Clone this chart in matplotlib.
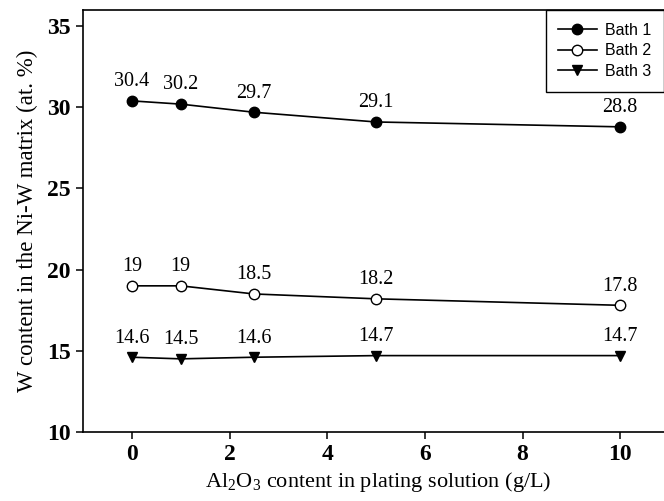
import matplotlib
matplotlib.use("Agg")
import matplotlib.pyplot as plt

# Al2O3 content (g/L)
al2o3 = [0, 1, 2.5, 5, 10]

# W content (at. %) for each bath
bath1 = [30.4, 30.2, 29.7, 29.1, 28.8]
bath2 = [19, 19, 18.5, 18.2, 17.8]
bath3 = [14.6, 14.5, 14.6, 14.7, 14.7]

labels1 = ["30.4", "30.2", "29.7", "29.1", "28.8"]
labels2 = ["19", "19", "18.5", "18.2", "17.8"]
labels3 = ["14.6", "14.5", "14.6", "14.7", "14.7"]

serif = "Liberation Serif"
sans = "Liberation Sans"

plt.rcParams["mathtext.fontset"] = "custom"
plt.rcParams["mathtext.rm"] = serif

fig = plt.figure(figsize=(6.64, 5.01), dpi=100)
# axes runs a bit past the right edge of the picture, like the cropped original
ax = fig.add_axes([0.125, 0.138, 0.89, 0.842])

line_kw = dict(color="black", linewidth=1.2, markersize=7.5, markeredgewidth=1.0)
ax.plot(al2o3, bath1, marker="o", markerfacecolor="black", label="Bath 1", **line_kw)
ax.plot(al2o3, bath2, marker="o", markerfacecolor="white", label="Bath 2", **line_kw)
ax.plot(al2o3, bath3, marker="v", markerfacecolor="black", label="Bath 3", **line_kw)

# value labels above each point
for ys, labs in [(bath1, labels1), (bath2, labels2), (bath3, labels3)]:
    for x, y, t in zip(al2o3, ys, labs):
        ax.annotate(t, (x, y), xytext=(0, 7), textcoords="offset points",
                    ha="center", va="bottom", fontsize=14.5, family=serif)

ax.set_xlim(-1, 11.1)
ax.set_ylim(10, 36)
ax.set_xticks([0, 2, 4, 6, 8, 10])
ax.set_yticks([10, 15, 20, 25, 30, 35])

for lab in ax.get_xticklabels() + ax.get_yticklabels():
    lab.set_family(serif)
    lab.set_fontweight("bold")
    lab.set_fontsize(17)

ax.tick_params(direction="out", length=5, width=1.1, top=False, right=False, pad=4)
for sp in ax.spines.values():
    sp.set_linewidth(1.2)

ax.set_xlabel("Al$_2$O$_3$ content in plating solution (g/L)", fontsize=16,
              family=serif, labelpad=3)
ax.set_ylabel("W content in the Ni-W matrix (at. %)", fontsize=16.5,
              family=serif, labelpad=6)

leg = ax.legend(loc="upper right", bbox_to_anchor=(0.9995, 0.98), bbox_transform=fig.transFigure,
                fancybox=False, edgecolor="black", framealpha=1,
                prop={"family": sans, "size": 11.5}, handlelength=2.4,
                borderpad=0.8, labelspacing=0.35, handletextpad=0.5, borderaxespad=0)
leg.get_frame().set_linewidth(1.0)

fig.savefig("out.png", dpi=100)
